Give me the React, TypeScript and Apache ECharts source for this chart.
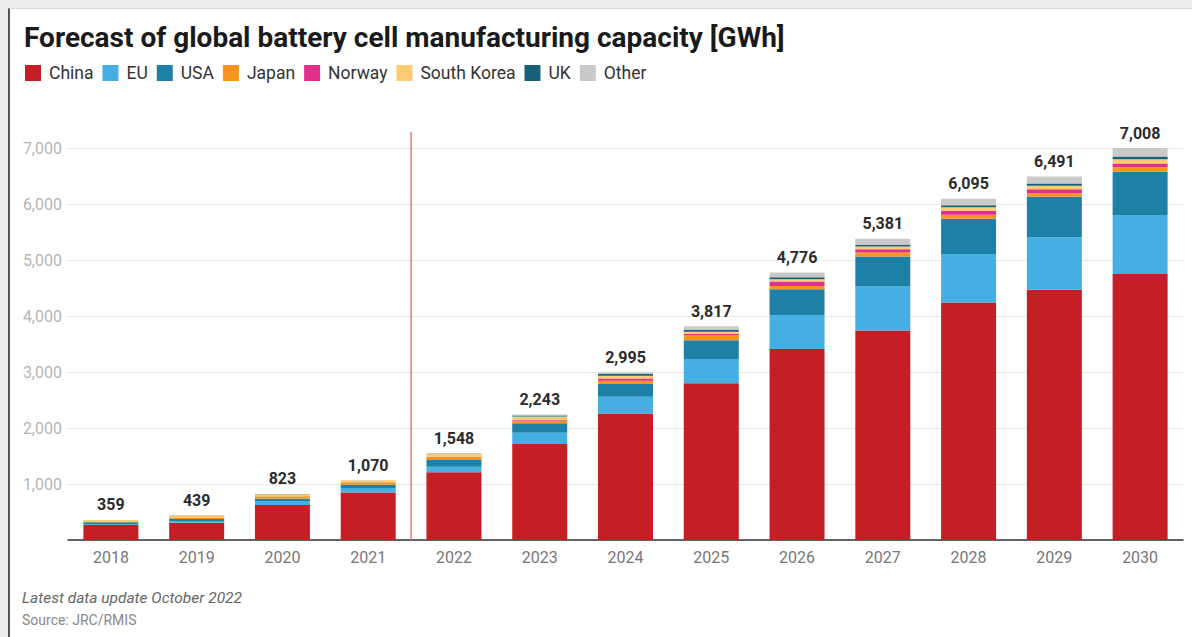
import React, { useEffect, useRef } from "react";
import * as echarts from "echarts";

const years = ["2018", "2019", "2020", "2021", "2022", "2023", "2024", "2025", "2026", "2027", "2028", "2029", "2030"];
const china = [268, 310, 625, 850, 1210, 1715, 2260, 2800, 3410, 3740, 4240, 4470, 4750];
const eu = [14, 20, 70, 78, 100, 200, 300, 430, 607, 786, 865, 935, 1045];
const usa = [36, 45, 40, 60, 120, 170, 225, 335, 460, 536, 632, 725, 780];
const japan = [14, 20, 45, 42, 50, 50, 60, 85, 60, 72, 72, 62, 83];
const norway = [0, 0, 0, 0, 5, 10, 40, 35, 77, 60, 72, 72, 65];
const southKorea = [23, 38, 38, 35, 55, 60, 50, 35, 42, 48, 60, 60, 75];
const uk = [2, 3, 2, 2, 5, 20, 35, 35, 36, 30, 36, 42, 50];
const other = [2, 3, 3, 3, 3, 18, 25, 62, 84, 109, 118, 125, 150];
const totals = [359, 439, 823, 1070, 1548, 2243, 2995, 3817, 4776, 5381, 6095, 6491, 7008];

const seriesNames = ["China", "EU", "USA", "Japan", "Norway", "South Korea", "UK", "Other"];
const seriesData = [china, eu, usa, japan, norway, southKorea, uk, other];
const seriesColors = ["#c61e25", "#45afe4", "#1f80a6", "#f7941d", "#e0308c", "#fecb72", "#17607a", "#c9c9c9"];

const fmt = (v: number) => v.toLocaleString("en-US");

export default function App() {
  const ref = useRef<HTMLDivElement>(null);
  useEffect(() => {
    if (!ref.current) return;
    const chart = echarts.init(ref.current, null, { renderer: "svg" });
    const last = seriesNames.length - 1;
    chart.setOption({
      animation: false,
      textStyle: { fontFamily: "Roboto" },
      title: {
        text: "Forecast of global battery cell manufacturing capacity [GWh]",
        left: 19,
        top: 18,
        textStyle: { fontFamily: "Roboto", fontSize: 28, fontWeight: "bold", color: "#1a1a1a" },
      },
      legend: {
        left: 20,
        top: 59,
        icon: "rect",
        itemWidth: 16,
        itemHeight: 16,
        itemGap: 9,
        data: seriesNames,
        textStyle: { fontFamily: "Roboto", fontSize: 17.5, color: "#333", padding: [0, 0, 0, 3] },
      },
      grid: { left: 68, right: 9, top: 148, bottom: 97 },
      xAxis: {
        type: "category",
        data: years,
        axisLine: { lineStyle: { color: "#333", width: 1.5 } },
        axisTick: { show: false },
        axisLabel: { color: "#777", fontSize: 16, margin: 9 },
      },
      yAxis: {
        type: "value",
        min: 0,
        max: 7000,
        interval: 1000,
        axisLine: { show: false },
        axisTick: { show: false },
        splitLine: { lineStyle: { color: "#e8e8e8", width: 1 } },
        axisLabel: {
          color: "#b5b5b5",
          fontSize: 16,
          margin: 6,
          formatter: (v: number) => (v === 0 ? "" : fmt(v)),
        },
      },
      series: seriesNames.map((name, i) => ({
        type: "bar",
        name,
        stack: "total",
        data: seriesData[i],
        barWidth: 55,
        clip: false,
        itemStyle: { color: seriesColors[i] },
        label:
          i === last
            ? {
                show: true,
                position: "top",
                distance: 7,
                fontFamily: "Roboto",
                fontSize: 16,
                fontWeight: "bold",
                color: "#2b2b2b",
                formatter: (p: any) => fmt(totals[p.dataIndex]),
              }
            : { show: false },
      })),
    });
    const xa = chart.convertToPixel({ xAxisIndex: 0 }, "2021") as number;
    const xb = chart.convertToPixel({ xAxisIndex: 0 }, "2022") as number;
    const xm = (xa + xb) / 2;
    const yTop = chart.convertToPixel({ yAxisIndex: 0 }, 7290) as number;
    const yBot = chart.convertToPixel({ yAxisIndex: 0 }, 0) as number;
    chart.setOption({
      graphic: [
        {
          type: "line",
          shape: { x1: xm, y1: yTop, x2: xm, y2: yBot },
          style: { stroke: "#e57a7a", lineWidth: 1.5 },
          z: 10,
        },
        {
          type: "text",
          left: 22,
          top: 590,
          style: {
            text: "Latest data update October 2022",
            fontFamily: "Roboto",
            fontStyle: "italic",
            fontSize: 15.5,
            fill: "#666",
          },
        },
        {
          type: "text",
          left: 22,
          top: 613,
          style: {
            text: "Source: JRC/RMIS",
            fontFamily: "Roboto",
            fontSize: 14,
            fill: "#888",
          },
        },
      ],
    });
    return () => chart.dispose();
  }, []);

  return (
    <div style={{ position: "fixed", left: 0, top: 0, width: 1192, height: 637, background: "#ececec" }}>
      <div
        style={{
          position: "absolute",
          left: 8,
          top: 8,
          width: 1184,
          height: 629,
          background: "#fff",
          borderLeft: "2px solid #555",
          borderTop: "1px solid #d8d8d8",
          boxSizing: "border-box",
        }}
      />
      <div ref={ref} style={{ position: "absolute", left: 0, top: 0, width: 1192, height: 637 }} />
    </div>
  );
}
